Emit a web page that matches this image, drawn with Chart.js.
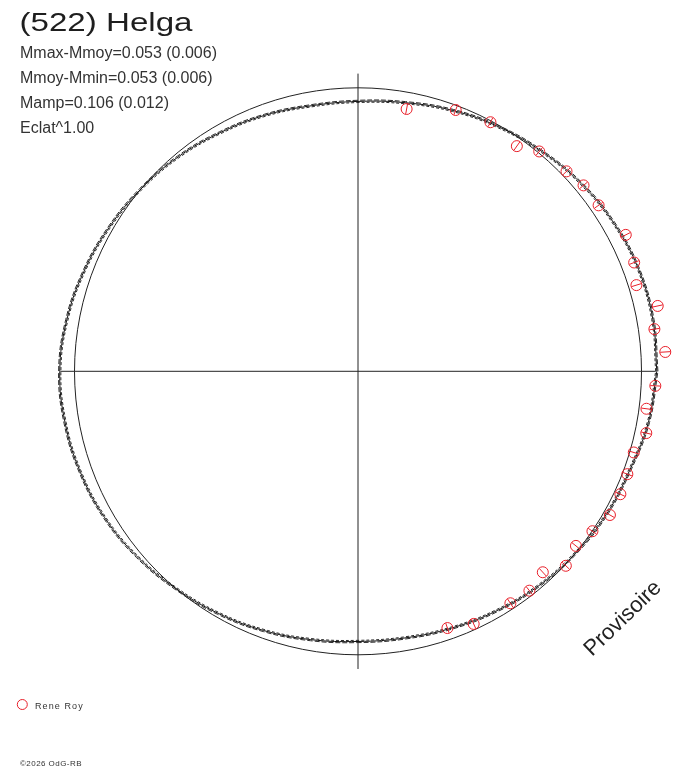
<!DOCTYPE html>
<html><head><meta charset="utf-8">
<script src="https://cdn.jsdelivr.net/npm/chart.js@4.4.1/dist/chart.umd.min.js"></script>
<style>html,body{margin:0;padding:0;background:#fff;overflow:hidden}canvas{display:block}</style>
</head><body>
<canvas id="c" width="688" height="768"></canvas>
<script>
const TITLE = "(522) Helga";
const STATS = ["Mmax-Mmoy=0.053 (0.006)", "Mmoy-Mmin=0.053 (0.006)", "Mamp=0.106 (0.012)", "Eclat^1.00"];
const WATERMARK = "Provisoire";
const OBSERVER = "Rene Roy";
const COPYRIGHT = "\u00A92026 OdG-RB";

const REF_RADIUS = 1.0;
const AXIS_EXTENT = 1.05;

// fitted light curve, radius vs rotation phase (degrees)
const FIT_PHASE = [0,10,20,30,40,50,60,70,80,90,100,110,120,130,140,150,160,170,180,190,200,210,220,230,240,250,260,270,280,290,300,310,320,330,340,350,360];
const FIT_R = [1.054,1.056,1.053,1.043,1.029,1.011,0.995,0.979,0.962,0.952,0.951,0.961,0.972,0.987,1.000,1.014,1.029,1.043,1.052,1.049,1.042,1.032,1.017,1.000,0.986,0.973,0.961,0.953,0.955,0.964,0.976,0.989,1.000,1.011,1.020,1.040,1.054];
const FIT_BAND = 0.004;

// observations (Rene Roy)
const OBS_PHASE = [79.5,69.5,62.0,54.8,50.5,43.8,39.5,34.6,27.0,21.5,17.2,12.3,8.1,3.6,-2.8,-7.4,-12.1,-16.4,-20.9,-25.1,-29.7,-34.3,-38.7,-43.1,-47.4,-52.0,-56.7,-65.4,-70.8];
const OBS_R = [0.941,0.984,0.995,0.972,1.005,1.019,1.031,1.031,1.060,1.047,1.028,1.082,1.056,1.086,1.050,1.026,1.040,1.014,1.017,1.022,1.023,1.001,0.985,1.004,0.963,0.982,0.979,0.980,0.959];
const OBS_ERR = [0.018,0.018,0.018,0.018,0.018,0.018,0.018,0.018,0.018,0.018,0.018,0.018,0.018,0.018,0.018,0.018,0.018,0.018,0.018,0.018,0.018,0.018,0.018,0.018,0.018,0.018,0.018,0.018,0.018];

const RED = '#e8202a';
const INK = '#222222';

function polar(ph, r){ const a = ph*Math.PI/180; return {x: r*Math.cos(a), y: r*Math.sin(a)}; }

const fitMain = FIT_PHASE.map((p,i)=>polar(p, FIT_R[i]));
const fitHi = FIT_PHASE.map((p,i)=>polar(p, FIT_R[i]+FIT_BAND));
const fitLo = FIT_PHASE.map((p,i)=>polar(p, FIT_R[i]-FIT_BAND));
const obsPts = OBS_PHASE.map((p,i)=>polar(p, OBS_R[i]));
const errSegs = [];
OBS_PHASE.forEach((p,i)=>{
  errSegs.push(polar(p, OBS_R[i]-OBS_ERR[i]));
  errSegs.push(polar(p, OBS_R[i]+OBS_ERR[i]));
  errSegs.push({x: 0, y: null});
});
const axesPts = [
  {x:-AXIS_EXTENT, y:0}, {x:AXIS_EXTENT, y:0}, {x:0, y:null},
  {x:0, y:-AXIS_EXTENT}, {x:0, y:AXIS_EXTENT}
];

const refCircle = {
  id: 'refCircle',
  beforeDatasetsDraw(chart){
    const {ctx, scales:{x, y}} = chart;
    const cx = x.getPixelForValue(0), cy = y.getPixelForValue(0);
    const r = x.getPixelForValue(REF_RADIUS) - cx;
    ctx.save();
    ctx.strokeStyle = INK; ctx.lineWidth = 1;
    ctx.beginPath(); ctx.arc(cx, cy, r, 0, Math.PI*2); ctx.stroke();
    ctx.restore();
  }
};

const texts = {
  id: 'texts',
  afterDraw(chart){
    const ctx = chart.ctx;
    ctx.save();
    ctx.fillStyle = '#1e1e1e';
    ctx.textBaseline = 'alphabetic';
    ctx.textAlign = 'left';
    // title (horizontally wide font)
    ctx.font = '25px "Liberation Sans", Arial, sans-serif';
    const w = ctx.measureText(TITLE).width;
    ctx.save();
    ctx.translate(19.5, 31);
    ctx.scale(173 / w, 1);
    ctx.fillText(TITLE, 0, 0);
    ctx.restore();
    // stats
    ctx.fillStyle = '#333333';
    ctx.font = '16px "Liberation Sans", Arial, sans-serif';
    STATS.forEach((s, i) => ctx.fillText(s, 20, 58.3 + 25*i));
    // watermark
    ctx.save();
    ctx.fillStyle = '#222222';
    ctx.font = '22px "Liberation Sans", Arial, sans-serif';
    ctx.translate(592, 657);
    ctx.rotate(-44 * Math.PI/180);
    ctx.fillText(WATERMARK, 0, 0);
    ctx.restore();
    // legend
    ctx.strokeStyle = RED; ctx.lineWidth = 1;
    ctx.beginPath(); ctx.arc(22.3, 704.5, 5, 0, Math.PI*2); ctx.stroke();
    ctx.fillStyle = '#333333';
    ctx.font = '9px "Liberation Sans", Arial, sans-serif';
    if ('letterSpacing' in ctx) ctx.letterSpacing = '1.1px';
    ctx.fillText(OBSERVER, 35, 709);
    ctx.font = '8px "Liberation Sans", Arial, sans-serif';
    if ('letterSpacing' in ctx) ctx.letterSpacing = '0.45px';
    ctx.fillText(COPYRIGHT, 20, 766);
    ctx.restore();
  }
};

new Chart(document.getElementById('c'), {
  type: 'scatter',
  data: { datasets: [
    { data: axesPts, showLine: true, spanGaps: false, borderColor: INK, borderWidth: 1, pointRadius: 0, order: 5 },
    { data: fitHi, showLine: true, borderColor: '#2a2a2a', borderWidth: 1, borderDash: [5,2], pointRadius: 0, tension: 0.4, order: 4 },
    { data: fitLo, showLine: true, borderColor: '#2a2a2a', borderWidth: 1, borderDash: [3,2], pointRadius: 0, tension: 0.4, order: 4 },
    { data: fitMain, showLine: true, borderColor: '#111111', borderWidth: 1, pointRadius: 0, tension: 0.4, order: 3 },
    { data: errSegs, showLine: true, spanGaps: false, borderColor: RED, borderWidth: 1, pointRadius: 0, order: 2 },
    { data: obsPts, showLine: false, pointRadius: 5.5, pointBorderColor: RED, pointBackgroundColor: 'rgba(0,0,0,0)', pointBorderWidth: 1, order: 1 }
  ]},
  options: {
    responsive: false,
    animation: false,
    layout: { padding: 0, autoPadding: false },
    plugins: { legend: { display: false }, tooltip: { enabled: false }, title: { display: false } },
    scales: {
      x: { type: 'linear', min: -1.2628, max: 1.1640, display: false },
      y: { type: 'linear', min: -1.3993, max: 1.3097, display: false }
    }
  },
  plugins: [refCircle, texts]
});
</script>
</body></html>
